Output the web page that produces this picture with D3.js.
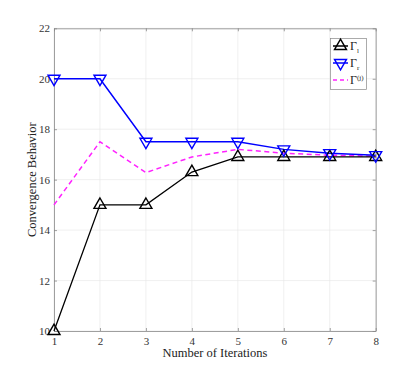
<!DOCTYPE html>
<html><head><meta charset="utf-8">
<script src="https://cdn.jsdelivr.net/npm/d3@7"></script>
<style>body{margin:0;background:#fff}svg{display:block}</style>
</head><body>
<script>
const iterations = [1,2,3,4,5,6,7,8];
const gammaL = [10, 15, 15, 16.3, 16.9, 16.9, 16.9, 16.9];
const gammaR = [20, 20, 17.5, 17.5, 17.5, 17.2, 17.05, 16.97];
const gammaJ = [15, 17.5, 16.28, 16.9, 17.2, 17.05, 16.97, 16.93];
const yTicks = [10,12,14,16,18,20,22];

const W=415,H=372;
const m={l:54,r:39.3,t:28.3,b:41};
const svg=d3.select("body").append("svg").attr("width",W).attr("height",H);
const x=d3.scaleLinear().domain([1,8]).range([m.l,W-m.r]);
const y=d3.scaleLinear().domain([10,22]).range([H-m.b,m.t]);
const font="'Liberation Serif','Times New Roman',serif";

// grid
const g=svg.append("g");
g.selectAll(".gx").data(iterations).join("line").attr("x1",d=>x(d)).attr("x2",d=>x(d))
 .attr("y1",y(10)).attr("y2",y(22)).attr("stroke","#e6e6e6").attr("stroke-width",0.6);
g.selectAll(".gy").data(yTicks).join("line").attr("y1",d=>y(d)).attr("y2",d=>y(d))
 .attr("x1",x(1)).attr("x2",x(8)).attr("stroke","#e6e6e6").attr("stroke-width",0.6);

const fmt=d3.format("d");
// axes
const xa=svg.append("g").attr("transform",`translate(0,${y(10)})`)
 .call(d3.axisBottom(x).tickValues(iterations).tickFormat(fmt).tickSizeInner(-3).tickSizeOuter(0).tickPadding(6));
const ya=svg.append("g").attr("transform",`translate(${x(1)},0)`)
 .call(d3.axisLeft(y).tickValues(yTicks).tickFormat(fmt).tickSizeInner(-3).tickSizeOuter(0).tickPadding(4));
const xt=svg.append("g").attr("transform",`translate(0,${y(22)})`)
 .call(d3.axisTop(x).tickValues(iterations).tickSizeInner(-3).tickSizeOuter(0).tickFormat(""));
const yr=svg.append("g").attr("transform",`translate(${x(8)},0)`)
 .call(d3.axisRight(y).tickValues(yTicks).tickSizeInner(-3).tickSizeOuter(0).tickFormat(""));
[xa,ya,xt,yr].forEach(a=>{a.attr("font-family",font);a.selectAll("path,line").attr("stroke","#888").attr("stroke-width",0.8);
 a.selectAll("text").attr("font-family",font).attr("font-size",11).attr("fill","#333");});

const line=d3.line().x((d,i)=>x(iterations[i])).y(d=>y(d));
svg.append("path").datum(gammaJ).attr("d",line).attr("fill","none").attr("stroke","#ff22ff").attr("stroke-width",1.5).attr("stroke-dasharray","5,3.5");
svg.append("path").datum(gammaL).attr("d",line).attr("fill","none").attr("stroke","#000").attr("stroke-width",1.3);
svg.append("path").datum(gammaR).attr("d",line).attr("fill","none").attr("stroke","#0000ff").attr("stroke-width",1.5);

function tri(cx,cy,s,up){const h=s*0.866;
 return up?`M${cx},${cy-h*0.66}L${cx+s/2},${cy+h*0.34}L${cx-s/2},${cy+h*0.34}Z`
          :`M${cx},${cy+h*0.66}L${cx+s/2},${cy-h*0.34}L${cx-s/2},${cy-h*0.34}Z`;}
svg.selectAll(".ml").data(gammaL).join("path").attr("d",(d,i)=>tri(x(iterations[i]),y(d),12,true))
 .attr("fill","none").attr("stroke","#000").attr("stroke-width",1.4);
svg.selectAll(".mr").data(gammaR).join("path").attr("d",(d,i)=>tri(x(iterations[i]),y(d),12,false))
 .attr("fill","none").attr("stroke","#0000ff").attr("stroke-width",1.4);

// legend
const lg=svg.append("g");
lg.append("rect").attr("x",330.5).attr("y",38.5).attr("width",36).attr("height",51)
 .attr("fill","#fff").attr("stroke","#888").attr("stroke-width",0.7);
const rows=[{c:"#000",up:true,sub:"l"},{c:"#0000ff",up:false,sub:"r"},{c:"#ff22ff",dash:true,sup:"(j)"}];
rows.forEach((r,i)=>{const cy=46+i*17;
 if(r.dash){lg.append("line").attr("x1",333).attr("x2",348).attr("y1",cy).attr("y2",cy)
   .attr("stroke",r.c).attr("stroke-width",1.5).attr("stroke-dasharray","4,3");}
 else{lg.append("line").attr("x1",333).attr("x2",348).attr("y1",cy).attr("y2",cy).attr("stroke",r.c).attr("stroke-width",1.5);
   lg.append("path").attr("d",tri(340.5,cy,12,r.up)).attr("fill","none").attr("stroke",r.c).attr("stroke-width",1.4);}
 const t=lg.append("text").attr("x",350).attr("y",cy+4).attr("font-family",font).attr("font-size",12).attr("fill","#222").text("Γ");
 if(r.sub)t.append("tspan").attr("font-size",7).attr("dy",3).text(r.sub);
 if(r.sup)t.append("tspan").attr("font-size",7).attr("dy",-4).text(r.sup);
});

svg.append("text").attr("x",(x(1)+x(8))/2).attr("y",357).attr("text-anchor","middle")
 .attr("font-family",font).attr("font-size",12.5).attr("fill","#222").text("Number of Iterations");
svg.append("text").attr("transform",`translate(36,${(y(10)+y(22))/2}) rotate(-90)`).attr("text-anchor","middle")
 .attr("font-family",font).attr("font-size",12.5).attr("fill","#222").text("Convergence Behavior");
</script>
</body></html>
